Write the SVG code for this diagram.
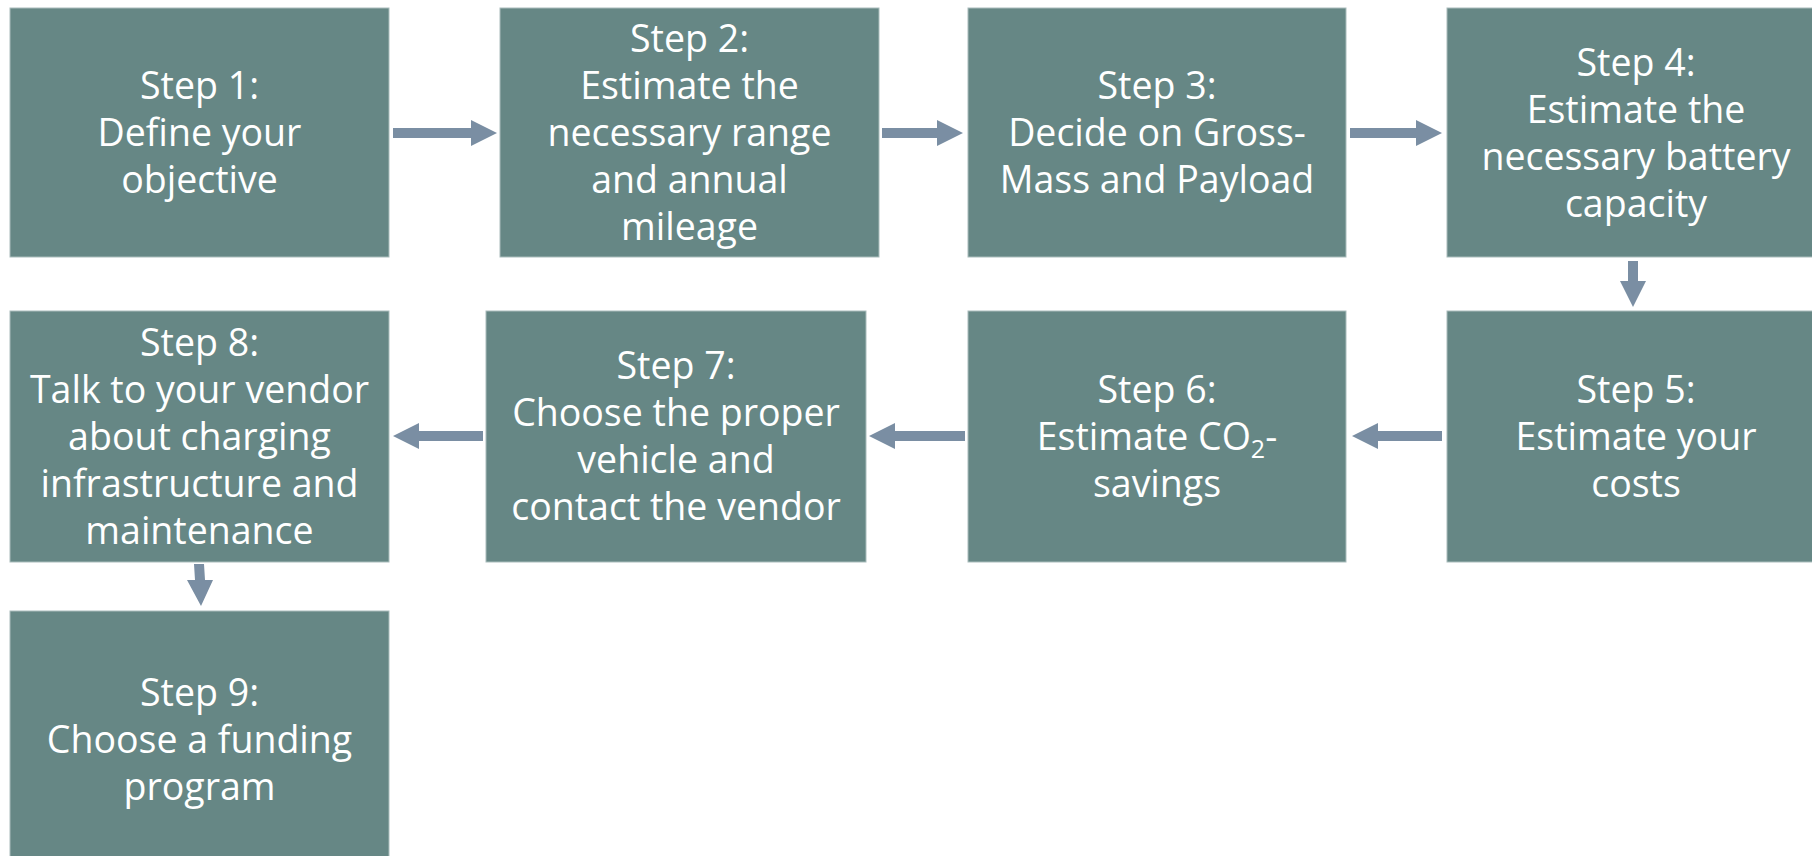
<svg xmlns="http://www.w3.org/2000/svg" width="1812" height="856" viewBox="0 0 1812 856">
<style>
.box{fill:#668785;stroke:#a9bcbb;stroke-width:1}
.t{font-family:"Open Sans","Noto Sans",sans-serif;font-size:37.5px;fill:#ffffff;text-anchor:middle}
.arr{fill:#7a8ea3}
</style>
<rect width="1812" height="856" fill="#ffffff"/>
<g id="connectors">
<polygon class="arr" points="393,128 471,128 471,120 497,133 471,146 471,138 393,138"/>
<polygon class="arr" points="882,128 937,128 937,120 963,133 937,146 937,138 882,138"/>
<polygon class="arr" points="1350,128 1416,128 1416,120 1442,133 1416,146 1416,138 1350,138"/>
<polygon class="arr" points="1628,261 1638,261 1638,281 1646,281 1633,307 1620,281 1628,281"/>
<polygon class="arr" points="1442,431 1378,431 1378,423 1352,436 1378,449 1378,441 1442,441"/>
<polygon class="arr" points="965,431 895,431 895,423 869,436 895,449 895,441 965,441"/>
<polygon class="arr" points="483,431 419,431 419,423 393,436 419,449 419,441 483,441"/>
<polygon class="arr" points="194,564 204,564 205,580 213,580 201,606 187,580 195,580"/>
</g>
<g id="step1"><rect class="box" x="10" y="8" width="379" height="249"/>
<text class="t"><tspan x="199.5" y="99">Step 1:</tspan><tspan x="199.5" y="146">Define your</tspan><tspan x="199.5" y="193">objective</tspan></text></g>
<g id="step2"><rect class="box" x="500" y="8" width="379" height="249"/>
<text class="t"><tspan x="689.5" y="52">Step 2:</tspan><tspan x="689.5" y="99">Estimate the</tspan><tspan x="689.5" y="146">necessary range</tspan><tspan x="689.5" y="193">and annual</tspan><tspan x="689.5" y="240">mileage</tspan></text></g>
<g id="step3"><rect class="box" x="968" y="8" width="378" height="249"/>
<text class="t"><tspan x="1157" y="99">Step 3:</tspan><tspan x="1157" y="146">Decide on Gross-</tspan><tspan x="1157" y="193">Mass and Payload</tspan></text></g>
<g id="step4"><rect class="box" x="1447" y="8" width="379" height="249"/>
<text class="t"><tspan x="1636" y="76">Step 4:</tspan><tspan x="1636" y="123">Estimate the</tspan><tspan x="1636" y="170">necessary battery</tspan><tspan x="1636" y="217">capacity</tspan></text></g>
<g id="step5"><rect class="box" x="1447" y="311" width="379" height="251"/>
<text class="t"><tspan x="1636" y="403">Step 5:</tspan><tspan x="1636" y="450">Estimate your</tspan><tspan x="1636" y="497">costs</tspan></text></g>
<g id="step6"><rect class="box" x="968" y="311" width="378" height="251"/>
<text class="t"><tspan x="1157" y="403">Step 6:</tspan><tspan x="1157" y="450">Estimate CO<tspan font-size="25" dy="8">2</tspan><tspan dy="-8">-</tspan></tspan><tspan x="1157" y="497">savings</tspan></text></g>
<g id="step7"><rect class="box" x="486" y="311" width="380" height="251"/>
<text class="t"><tspan x="676" y="379">Step 7:</tspan><tspan x="676" y="426">Choose the proper</tspan><tspan x="676" y="473">vehicle and</tspan><tspan x="676" y="520">contact the vendor</tspan></text></g>
<g id="step8"><rect class="box" x="10" y="311" width="379" height="251"/>
<text class="t"><tspan x="199.5" y="356">Step 8:</tspan><tspan x="199.5" y="403">Talk to your vendor</tspan><tspan x="199.5" y="450">about charging</tspan><tspan x="199.5" y="497">infrastructure and</tspan><tspan x="199.5" y="544">maintenance</tspan></text></g>
<g id="step9"><rect class="box" x="10" y="611" width="379" height="260"/>
<text class="t"><tspan x="199.5" y="706">Step 9:</tspan><tspan x="199.5" y="753">Choose a funding</tspan><tspan x="199.5" y="800">program</tspan></text></g>
</svg>
